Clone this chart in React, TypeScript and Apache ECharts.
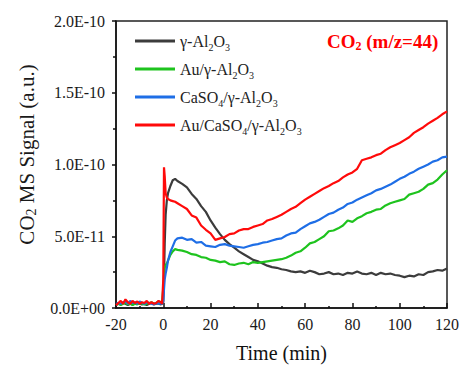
import React, { useEffect, useRef } from "react";
import * as echarts from "echarts";

// Time axis (min), shared by all series
const times = [
  -20, -19, -18, -17, -16, -15, -14, -13, -12, -11, -10, -9, -8, -7, -6, -5, -4, -3, -2, -1,
  -0.5, 0, 0.3, 0.6, 1, 1.5, 2, 3, 4, 5, 6,
  8, 10, 12, 14, 16, 18, 20, 22, 24, 26, 28, 30, 32, 34, 36, 38, 40, 42, 44, 46, 48, 50,
  52, 54, 56, 58, 60, 62, 64, 66, 68, 70, 72, 74, 76, 78, 80, 82, 84, 86, 88, 90,
  92, 94, 96, 98, 100, 102, 104, 106, 108, 110, 112, 114, 116, 118, 120,
];

// Signal values in units of 1E-11
const SCALE = 1e-11;

const alumina = [
  0.2, 0.3, 0.25, 0.35, 0.3, 0.2, 0.3, 0.25, 0.3, 0.35, 0.3, 0.25, 0.3, 0.2, 0.3, 0.35, 0.25, 0.3, 0.3, 0.25,
  0.3, 0.4, 2.0, 4.5, 6.5, 7.5, 8.0, 8.5, 8.9, 9.0, 8.85,
  8.65, 8.4, 7.95, 7.6, 7.1, 6.7, 6.1, 5.6, 5.15, 4.75, 4.45, 4.2, 3.95, 3.75, 3.55, 3.35, 3.25, 3.1, 2.95, 2.85, 2.8, 2.7,
  2.65, 2.55, 2.5, 2.55, 2.45, 2.6, 2.5, 2.35, 2.4, 2.5, 2.35, 2.4, 2.3, 2.45, 2.4, 2.55, 2.4, 2.35, 2.45, 2.3,
  2.45, 2.35, 2.4, 2.3, 2.25, 2.15, 2.25, 2.2, 2.35, 2.3, 2.5, 2.55, 2.65, 2.6, 2.75,
];

const auAlumina = [
  0.25, 0.3, 0.2, 0.3, 0.35, 0.25, 0.3, 0.2, 0.3, 0.25, 0.35, 0.3, 0.25, 0.3, 0.35, 0.4, 0.3, 0.35, 0.45, 0.4,
  0.4, 1.4, 2.3, 2.8, 3.0, 3.1, 3.3, 3.7, 3.95, 4.1, 4.05,
  4.0, 3.9, 3.75, 3.7, 3.55, 3.5, 3.35, 3.3, 3.2, 3.25, 3.05, 3.0, 3.1, 3.15, 3.05, 3.2, 3.15, 3.2, 3.25, 3.3, 3.35, 3.4,
  3.5, 3.65, 3.85, 3.95, 4.2, 4.5, 4.6, 4.8, 5.0, 5.35, 5.4, 5.55, 5.75, 6.1, 6.0, 6.25, 6.4, 6.6, 6.7, 6.85,
  6.9, 7.15, 7.3, 7.4, 7.5, 7.6, 7.9, 8.0, 8.1, 8.3, 8.6, 8.7, 8.95, 9.3, 9.6,
];

const caso4Alumina = [
  0.3, 0.35, 0.3, 0.4, 0.45, 0.3, 0.5, 0.35, 0.4, 0.3, 0.45, 0.35, 0.3, 0.4, 0.35, 0.3, 0.25, 0.35, 0.3, 0.3,
  0.3, 0.5, 1.3, 2.0, 2.4, 2.8, 3.3, 3.9, 4.3, 4.7, 4.85,
  4.9, 4.75, 4.8, 4.55, 4.6, 4.35, 4.3, 4.25, 4.4, 4.45, 4.35, 4.3, 4.25, 4.2, 4.3, 4.4, 4.45, 4.55, 4.6, 4.7, 4.8, 4.85,
  5.05, 5.2, 5.25, 5.5, 5.7, 5.9, 6.0, 6.15, 6.35, 6.55, 6.65, 6.85, 7.0, 7.25, 7.35, 7.55, 7.7, 7.85, 8.0, 8.2,
  8.3, 8.45, 8.6, 8.8, 9.0, 9.15, 9.35, 9.5, 9.7, 9.85, 10.0, 10.2, 10.3, 10.5, 10.55,
];

const auCaso4Alumina = [
  0.2, 0.35, 0.5, 0.3, 0.6, 0.4, 0.3, 0.5, 0.35, 0.45, 0.3, 0.4, 0.35, 0.5, 0.3, 0.4, 0.3, 0.35, 0.5, 0.4,
  0.3, 2.0, 9.8, 9.2, 8.0, 7.7, 7.6, 7.5, 7.45, 7.4, 7.3,
  7.1, 6.9, 6.45, 6.3, 5.75, 5.45, 5.2, 4.75, 4.85, 4.95, 5.15, 5.2, 5.4, 5.5, 5.5, 5.65, 5.75, 5.85, 6.1, 6.2, 6.35, 6.5,
  6.7, 6.9, 7.05, 7.3, 7.55, 7.75, 7.95, 8.15, 8.35, 8.5, 8.7, 8.85, 9.1, 9.3, 9.45, 9.7, 10.3, 10.4, 10.5, 10.65,
  10.75, 11.0, 11.2, 11.35, 11.5, 11.7, 11.9, 12.2, 12.4, 12.6, 12.85, 13.05, 13.25, 13.5, 13.7,
];

const seriesNames = ["γ-Al2O3", "Au/γ-Al2O3", "CaSO4/γ-Al2O3", "Au/CaSO4/γ-Al2O3"];
const legendLabels = [
  "{n|γ-Al}{s|2}{n|O}{s|3}",
  "{n|Au/γ-Al}{s|2}{n|O}{s|3}",
  "{n|CaSO}{s|4}{n|/γ-Al}{s|2}{n|O}{s|3}",
  "{n|Au/CaSO}{s|4}{n|/γ-Al}{s|2}{n|O}{s|3}",
];
const seriesColors = ["#3c3c3c", "#1ec31e", "#1e6ee6", "#ff0a0a"];
const seriesValues = [alumina, auAlumina, caso4Alumina, auCaso4Alumina];

const xTicks = { min: -20, max: 120, interval: 20 };
const yTicks = { min: 0, max: 2e-10, interval: 5e-11 };

const FONT = "'Liberation Serif', 'Times New Roman', serif";

function sciLabel(v: number): string {
  if (Math.abs(v) < 1e-20) return "0.0E+00";
  const [m, e] = v.toExponential(1).split("e");
  const sign = e[0] === "-" ? "-" : "+";
  const digits = e.replace(/[+-]/, "").padStart(2, "0");
  return `${m}E${sign}${digits}`;
}

export default function App() {
  const ref = useRef<HTMLDivElement>(null);

  useEffect(() => {
    if (!ref.current) return;
    const chart = echarts.init(ref.current, null, { renderer: "svg" });

    const subRich = (size: number, color: string, bold = false) => ({
      n: { fontSize: size, lineHeight: 22, fontFamily: FONT, color, fontWeight: bold ? "bold" : "normal", verticalAlign: "middle" },
      s: { fontSize: Math.round(size * 0.65), lineHeight: 11, fontFamily: FONT, color, fontWeight: bold ? "bold" : "normal", verticalAlign: "bottom" },
    });

    const legendMap: Record<string, string> = {};
    seriesNames.forEach((n, i) => (legendMap[n] = legendLabels[i]));

    chart.setOption({
      animation: false,
      backgroundColor: "#ffffff",
      textStyle: { fontFamily: FONT },
      title: {
        text: "{n|CO}{s|2}{n| (m/z=44)}",
        left: 327,
        top: 30,
        padding: 0,
        textStyle: { rich: subRich(19, "#ff0000", true) },
      },
      legend: {
        orient: "vertical",
        left: 135,
        top: 33,
        padding: 0,
        itemGap: 9,
        itemWidth: 40,
        itemHeight: 3,
        icon: "rect",
        data: seriesNames,
        formatter: (name: string) => legendMap[name],
        textStyle: { rich: subRich(16, "#222222"), padding: [0, 0, 0, 0] },
      },
      grid: {
        left: 116,
        top: 21,
        right: 14,
        bottom: 55,
        show: true,
        borderColor: "#222222",
        borderWidth: 1.5,
      },
      xAxis: {
        type: "value",
        min: xTicks.min,
        max: xTicks.max,
        interval: xTicks.interval,
        name: "Time (min)",
        nameLocation: "middle",
        nameGap: 35,
        nameTextStyle: { fontSize: 20, fontFamily: FONT, color: "#111111" },
        axisLine: { show: true, onZero: false, lineStyle: { color: "#111111", width: 1.5 } },
        axisTick: { show: true, inside: true, length: 5, lineStyle: { color: "#111111", width: 1.5 } },
        minorTick: { show: true, splitNumber: 2, length: 2, lineStyle: { color: "#111111", width: 1.5 } },
        axisLabel: { fontSize: 16, fontFamily: FONT, color: "#1a1a1a", margin: 8 },
        splitLine: { show: false },
      },
      yAxis: {
        type: "value",
        min: yTicks.min,
        max: yTicks.max,
        interval: yTicks.interval,
        name: "{n|CO}{s|2}{n| MS Signal (a.u.)}",
        nameLocation: "middle",
        nameGap: 78,
        nameTextStyle: { rich: subRich(21, "#1a1a1a"), padding: [0, 0, 0, 20] },
        axisLine: { show: true, onZero: false, lineStyle: { color: "#111111", width: 1.5 } },
        axisTick: { show: true, inside: false, length: 4, lineStyle: { color: "#111111", width: 1.5 } },
        minorTick: { show: true, splitNumber: 2, length: 3, lineStyle: { color: "#111111", width: 1.5 } },
        axisLabel: { fontSize: 16, fontFamily: FONT, color: "#1a1a1a", margin: 11, formatter: sciLabel },
        splitLine: { show: false },
      },
      series: seriesNames.map((name, i) => ({
        name,
        type: "line",
        showSymbol: false,
        symbol: "none",
        color: seriesColors[i],
        lineStyle: { color: seriesColors[i], width: 2.2 },
        data: times.map((t, k) => [t, seriesValues[i][k] * SCALE]),
      })),
    });

    return () => chart.dispose();
  }, []);

  return (
    <div
      ref={ref}
      style={{ position: "fixed", left: 0, top: 0, width: 462, height: 368, background: "#fff" }}
    />
  );
}
